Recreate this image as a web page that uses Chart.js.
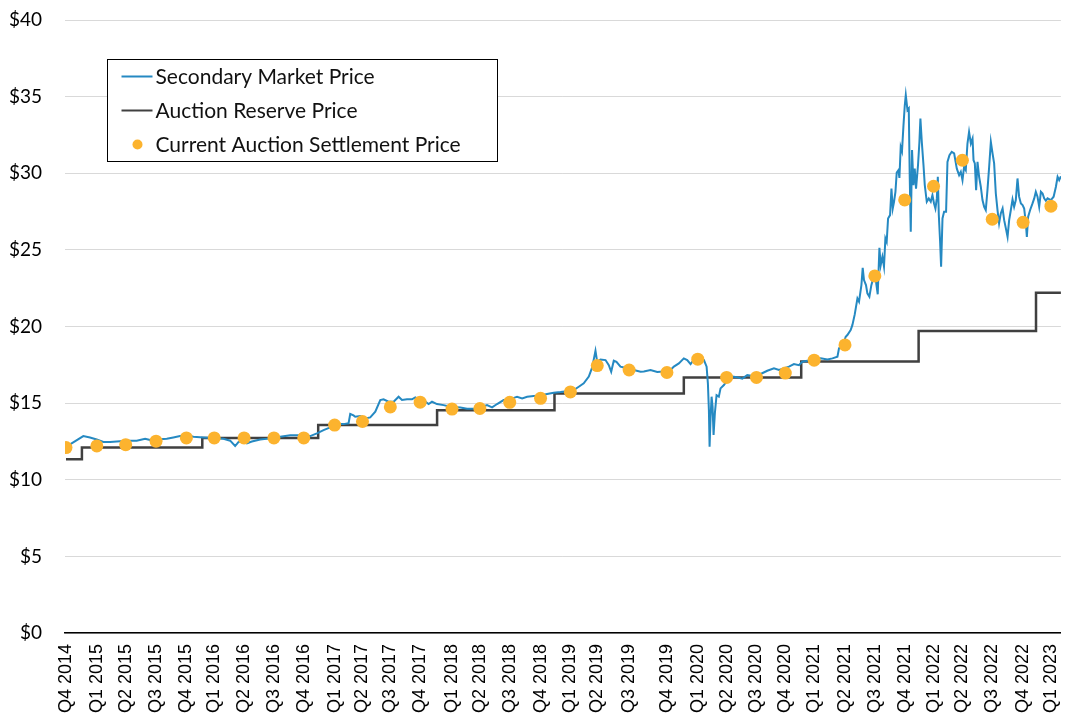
<!DOCTYPE html>
<html>
<head>
<meta charset="utf-8">
<script src="https://cdn.jsdelivr.net/npm/chart.js@4.4.1/dist/chart.umd.min.js"></script>
<style>
  html, body { margin: 0; padding: 0; background: #fff; }
  #wrap { width: 1072px; height: 727px; }
</style>
</head>
<body>
<div id="wrap"><canvas id="myChart" width="1072" height="727"></canvas></div>
<script>
// x unit = months along the chart axis, 0 = Q4 2014 auction
const quarterLabels = [
  'Q4 2014','Q1 2015','Q2 2015','Q3 2015','Q4 2015','Q1 2016','Q2 2016','Q3 2016','Q4 2016',
  'Q1 2017','Q2 2017','Q3 2017','Q4 2017','Q1 2018','Q2 2018','Q3 2018','Q4 2018',
  'Q1 2019','Q2 2019','Q3 2019','Q4 2019','Q1 2020','Q2 2020','Q3 2020','Q4 2020',
  'Q1 2021','Q2 2021','Q3 2021','Q4 2021','Q1 2022','Q2 2022','Q3 2022','Q4 2022','Q1 2023'
];
const auctionMonth = [0, 3.1, 6.0, 9.05, 12.1, 14.9, 17.9, 20.9, 23.9, 27.0, 29.8, 32.6, 35.6, 38.8, 41.6, 44.6, 47.7,
  50.7, 53.4, 56.6, 60.4, 63.5, 66.4, 69.4, 72.3, 75.2, 78.3, 81.3, 84.3, 87.2, 90.1, 93.1, 96.2, 99.0];
const settlementPrice = [12.10, 12.21, 12.29, 12.52, 12.73, 12.73, 12.73, 12.73, 12.73, 13.57, 13.80, 14.75, 15.06, 14.61, 14.65, 15.05, 15.31,
  15.73, 17.45, 17.16, 17.00, 17.87, 16.68, 16.68, 16.96, 17.80, 18.80, 23.30, 28.26, 29.15, 30.85, 27.00, 26.80, 27.85];

const reserveMonth = [0, 1.6, 13.7, 25.35, 37.3, 49.1, 62.1, 73.9, 85.7, 97.5, 100];
const reservePrice = [11.34, 12.10, 12.73, 13.57, 14.53, 15.62, 16.68, 17.71, 19.70, 22.21, 22.21];

// [month, price]
const marketPrice = [
  [0.0,12.15],[1.74,12.85],[2.41,12.76],[3.09,12.63],[3.75,12.46],[4.43,12.46],[5.10,12.50],[6.11,12.55],[7.11,12.55],[7.95,12.67],
  [8.45,12.59],[9.12,12.63],[10.13,12.67],[10.79,12.76],[11.47,12.85],[12.14,12.90],[12.81,12.81],[13.81,12.76],[14.82,12.72],[15.83,12.67],
  [16.50,12.55],[17.00,12.20],[17.33,12.46],[17.84,12.55],[18.18,12.38],[18.68,12.50],[19.52,12.63],[20.52,12.70],[21.53,12.81],[22.54,12.90],
  [23.54,12.90],[24.55,12.85],[25.22,13.03],[25.89,13.24],[26.56,13.42],[27.23,13.63],[27.90,13.63],[28.40,13.68],[28.57,14.29],[28.90,14.20],
  [29.07,14.11],[29.58,14.16],[30.08,14.00],[30.58,14.07],[31.09,14.44],[31.59,15.20],[31.92,15.25],[32.42,15.09],[32.93,15.09],[33.43,15.42],
  [33.77,15.20],[34.28,15.25],[34.78,15.25],[35.11,15.38],[35.61,15.20],[36.12,15.09],[36.45,14.94],[36.79,15.09],[37.29,14.94],[37.96,14.87],
  [38.63,14.76],[39.64,14.72],[40.31,14.63],[40.98,14.63],[41.65,14.72],[42.32,14.87],[42.83,14.72],[43.33,14.94],[43.99,15.20],[44.67,15.25],
  [45.34,15.42],[45.85,15.31],[46.35,15.42],[47.01,15.46],[47.69,15.50],[48.36,15.59],[49.02,15.68],[49.70,15.72],[50.37,15.77],[51.04,15.85],
  [51.54,16.07],[52.04,16.29],[52.55,16.73],[52.89,17.33],[53.22,18.42],[53.39,17.70],[53.72,17.85],[54.23,17.81],[54.56,17.48],[54.80,17.05],
  [55.06,17.77],[55.33,17.70],[55.73,17.38],[56.41,17.27],[57.07,17.16],[57.75,17.05],[58.08,17.07],[58.75,17.16],[59.43,17.03],[60.09,17.07],
  [60.76,17.16],[61.10,17.38],[61.60,17.59],[62.10,17.92],[62.44,17.81],[62.78,17.55],[63.11,17.85],[63.61,17.98],[64.12,17.81],[64.39,17.38],
  [64.52,16.29],[64.62,14.55],[64.69,12.15],[64.79,14.11],[64.89,15.42],[64.99,14.76],[65.09,12.92],[65.22,14.33],[65.39,15.52],[65.62,15.42],
  [65.79,15.96],[66.13,16.18],[66.47,16.50],[66.97,16.73],[67.47,16.69],[67.98,16.60],[68.48,16.83],[69.15,16.76],[69.82,16.90],[70.49,17.11],
  [71.16,17.27],[71.66,17.16],[72.16,17.27],[72.67,17.38],[73.17,17.55],[73.67,17.48],[74.01,17.70],[74.52,17.77],[75.18,17.85],[75.86,17.92],
  [76.53,17.85],[77.04,17.92],[77.54,18.03],[77.70,18.58],[78.04,18.68],[78.37,19.33],[78.54,19.44],[78.87,19.77],[79.04,20.09],[79.28,20.79],
  [79.55,21.83],[79.71,21.62],[79.95,22.70],[80.08,23.83],[80.21,23.03],[80.41,22.70],[80.55,22.16],[80.75,21.95],[80.95,22.70],[81.22,23.35],
  [81.42,22.92],[81.59,22.10],[81.76,25.13],[81.89,24.00],[82.06,24.55],[82.22,23.90],[82.36,25.75],[82.49,25.53],[82.63,27.05],[82.83,27.27],
  [82.97,29.00],[83.10,27.70],[83.23,28.14],[83.37,28.79],[83.50,30.05],[83.67,30.20],[83.77,29.70],[83.90,31.72],[84.03,31.44],[84.18,33.14],
  [84.31,34.44],[84.41,35.10],[84.58,34.12],[84.71,34.23],[84.81,29.66],[84.91,26.18],[85.04,31.51],[85.18,29.23],[85.31,30.31],[85.44,29.00],
  [85.64,30.53],[85.78,32.05],[85.88,33.57],[86.02,32.05],[86.19,30.53],[86.32,29.23],[86.52,28.14],[86.72,28.36],[86.92,28.14],[87.09,28.57],
  [87.25,28.03],[87.39,27.70],[87.53,28.36],[87.63,29.77],[87.73,27.27],[87.86,25.53],[87.96,23.90],[88.10,27.05],[88.26,27.48],[88.46,27.48],
  [88.60,30.74],[88.80,31.18],[89.03,31.40],[89.27,31.30],[89.54,30.30],[89.77,29.88],[89.94,30.10],[90.11,29.55],[90.27,30.42],[90.44,30.20],
  [90.61,31.94],[90.77,32.70],[90.95,31.94],[91.12,32.26],[91.22,30.85],[91.35,30.64],[91.48,28.90],[91.62,30.74],[91.78,29.77],[91.95,29.12],
  [92.12,28.25],[92.29,27.81],[92.45,27.60],[92.62,28.90],[92.79,30.42],[92.96,32.05],[93.13,31.30],[93.29,30.64],[93.46,28.68],[93.63,27.60],
  [93.79,26.73],[93.96,27.38],[94.14,27.70],[94.30,26.94],[94.47,26.40],[94.64,25.85],[94.80,26.94],[94.97,27.60],[95.14,28.29],[95.30,27.81],
  [95.47,28.25],[95.64,29.66],[95.80,28.47],[95.98,28.03],[96.15,27.92],[96.31,27.70],[96.48,26.73],[96.58,25.85],[96.71,27.16],[96.91,27.60],
  [97.15,28.03],[97.32,28.36],[97.48,28.79],[97.65,28.47],[97.82,27.81],[97.99,28.79],[98.16,28.68],[98.32,28.36],[98.49,28.20],[98.66,28.36],
  [99.00,28.25],[99.27,28.47],[99.50,29.12],[99.67,29.77],[99.83,29.55],[100.0,29.80]
];

const yTicks = [0, 5, 10, 15, 20, 25, 30, 35, 40];

const BLUE = '#2589c2';
const GREY = '#404040';
const GOLD = '#fcb32e';

// legend drawn as a boxed panel inside the plot, like the original
const boxLegend = {
  id: 'boxLegend',
  afterDraw(chart) {
    const ctx = chart.ctx;
    const x = chart.chartArea.left + 42.5, y = chart.chartArea.top + 39.5;
    const w = 390, h = 102;
    ctx.save();
    ctx.fillStyle = '#fff';
    ctx.fillRect(x, y, w, h);
    ctx.strokeStyle = '#000';
    ctx.lineWidth = 1;
    ctx.strokeRect(x, y, w, h);
    ctx.font = '21px Lato';
    ctx.textBaseline = 'middle';
    ctx.textAlign = 'left';
    chart.data.datasets.forEach((ds, i) => {
      const row = y + 17 + i * 34;
      if (ds.showLine === false) {
        ctx.fillStyle = ds.pointBackgroundColor;
        ctx.beginPath();
        ctx.arc(x + 30, row, 5, 0, Math.PI * 2);
        ctx.fill();
      } else {
        ctx.strokeStyle = ds.borderColor;
        ctx.lineWidth = 2;
        ctx.beginPath();
        ctx.moveTo(x + 14, row);
        ctx.lineTo(x + 45, row);
        ctx.stroke();
      }
      ctx.fillStyle = '#111';
      ctx.fillText(ds.label, x + 48, row + 1);
    });
    ctx.restore();
  }
};

const ctx = document.querySelector('#myChart').getContext('2d');

const data = {
  datasets: [
    {
      label: 'Secondary Market Price',
      data: marketPrice.map(p => ({ x: p[0], y: p[1] })),
      borderColor: BLUE,
      borderWidth: 2,
      pointRadius: 0,
      tension: 0,
      order: 2
    },
    {
      label: 'Auction Reserve Price',
      data: reserveMonth.map((m, i) => ({ x: m, y: reservePrice[i] })),
      borderColor: GREY,
      borderWidth: 2.5,
      pointRadius: 0,
      stepped: true,
      order: 3
    },
    {
      label: 'Current Auction Settlement Price',
      data: auctionMonth.map((m, i) => ({ x: m, y: settlementPrice[i] })),
      showLine: false,
      pointRadius: 6.5,
      pointBackgroundColor: GOLD,
      pointBorderWidth: 0,
      borderColor: GOLD,
      order: 1
    }
  ]
};

const config = {
  type: 'line',
  data: data,
  plugins: [boxLegend],
  options: {
    responsive: false,
    animation: false,
    layout: { padding: { top: 20, right: 2, left: 0, bottom: 0 } },
    plugins: {
      legend: { display: false },
      tooltip: { enabled: false }
    },
    scales: {
      x: {
        type: 'linear',
        min: -0.1,
        max: 100,
        // invisible tick marks give the label gap without widening the layout padding
        grid: { display: true, drawOnChartArea: false, drawTicks: true, tickLength: 8, tickColor: 'rgba(0,0,0,0)', color: 'rgba(0,0,0,0)' },
        border: { display: true, color: '#000', width: 1.5 },
        afterBuildTicks: (scale) => {
          scale.ticks = auctionMonth.map(v => ({ value: v }));
        },
        afterFit: (scale) => { scale.height = 94; },
        ticks: {
          autoSkip: false,
          minRotation: 90,
          maxRotation: 90,
          padding: 3,
          color: '#000',
          font: { family: '"Liberation Sans", Arial, sans-serif', size: 18, lineHeight: 1 },
          callback: (value, index) => quarterLabels[index]
        }
      },
      y: {
        min: 0,
        max: 40,
        afterBuildTicks: (scale) => {
          scale.ticks = yTicks.map(v => ({ value: v }));
        },
        afterFit: (scale) => { scale.width = 65; },
        grid: { color: '#d9d9d9', lineWidth: 1, drawTicks: true, tickLength: 20, tickColor: 'rgba(0,0,0,0)' },
        border: { display: false },
        ticks: {
          padding: 3,
          color: '#000',
          font: { family: 'Lato, sans-serif', size: 19 },
          callback: (value) => '$' + value
        }
      }
    }
  }
};

const myChart = new Chart(ctx, config);
</script>
</body>
</html>
